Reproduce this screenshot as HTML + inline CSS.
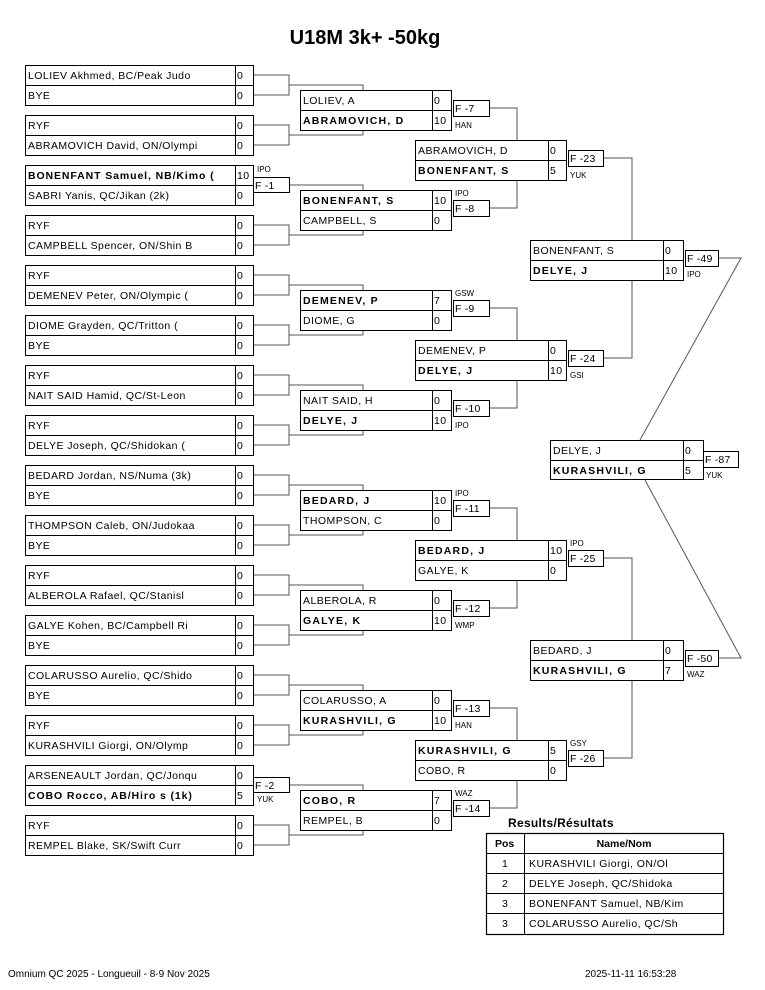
<!DOCTYPE html>
<html><head><meta charset="utf-8"><style>
html,body{margin:0;padding:0;background:#fff}
svg{display:block}
text{font-family:"Liberation Sans",Arial,sans-serif;font-size:10.5px;letter-spacing:.45px;fill:#000}
.b{font-weight:bold;letter-spacing:1.2px}
.s{font-size:8px;letter-spacing:0}
.f{font-size:10.5px;letter-spacing:.2px}
.t{font-size:20px;font-weight:bold;letter-spacing:0}
.h{font-size:12px;font-weight:bold;letter-spacing:.3px}
.ft{font-size:10px;letter-spacing:0}
rect{fill:none;stroke:#000;stroke-width:1}
.ln{fill:none;stroke:#555;stroke-width:1}
</style></head><body>
<svg width="765" height="990" viewBox="0 0 765 990" xmlns="http://www.w3.org/2000/svg">
<text x="365" y="44" text-anchor="middle" class="t">U18M 3k+ -50kg</text>

<!-- connectors -->
<path class="ln" d="M253 75H289V95H253M289 85H363V90
M253 125H289V145H253M289 135H363V130
M289 185H363V190
M253 225H289V245H253M289 235H363V230
M253 275H289V295H253M289 285H363V290
M253 325H289V345H253M289 335H363V330
M253 375H289V395H253M289 385H363V390
M253 425H289V445H253M289 435H363V430
M253 475H289V495H253M289 485H363V490
M253 525H289V545H253M289 535H363V530
M253 575H289V595H253M289 585H363V590
M253 625H289V645H253M289 635H363V630
M253 675H289V695H253M289 685H363V690
M253 725H289V745H253M289 735H363V730
M289 785H363V790
M253 825H289V845H253M289 835H363V830
M489 108H517V140M489 208H517V180M489 308H517V340M489 408H517V380
M489 508H517V540M489 608H517V580M489 708H517V740M489 808H517V780
M603 158H632V240M603 358H632V280M603 558H632V640M603 758H632V680
M718 258H741L640 440M718 658H741L645 480"/>

<!-- Round 1 boxes -->
<g>
<rect x="25.5" y="65.5" width="228" height="40"/><path class="ln" style="stroke:#000" d="M25 85.5H253M235.5 65V105"/>
<rect x="25.5" y="115.5" width="228" height="40"/><path class="ln" style="stroke:#000" d="M25 135.5H253M235.5 115V155"/>
<rect x="25.5" y="165.5" width="228" height="40"/><path class="ln" style="stroke:#000" d="M25 185.5H253M235.5 165V205"/>
<rect x="25.5" y="215.5" width="228" height="40"/><path class="ln" style="stroke:#000" d="M25 235.5H253M235.5 215V255"/>
<rect x="25.5" y="265.5" width="228" height="40"/><path class="ln" style="stroke:#000" d="M25 285.5H253M235.5 265V305"/>
<rect x="25.5" y="315.5" width="228" height="40"/><path class="ln" style="stroke:#000" d="M25 335.5H253M235.5 315V355"/>
<rect x="25.5" y="365.5" width="228" height="40"/><path class="ln" style="stroke:#000" d="M25 385.5H253M235.5 365V405"/>
<rect x="25.5" y="415.5" width="228" height="40"/><path class="ln" style="stroke:#000" d="M25 435.5H253M235.5 415V455"/>
<rect x="25.5" y="465.5" width="228" height="40"/><path class="ln" style="stroke:#000" d="M25 485.5H253M235.5 465V505"/>
<rect x="25.5" y="515.5" width="228" height="40"/><path class="ln" style="stroke:#000" d="M25 535.5H253M235.5 515V555"/>
<rect x="25.5" y="565.5" width="228" height="40"/><path class="ln" style="stroke:#000" d="M25 585.5H253M235.5 565V605"/>
<rect x="25.5" y="615.5" width="228" height="40"/><path class="ln" style="stroke:#000" d="M25 635.5H253M235.5 615V655"/>
<rect x="25.5" y="665.5" width="228" height="40"/><path class="ln" style="stroke:#000" d="M25 685.5H253M235.5 665V705"/>
<rect x="25.5" y="715.5" width="228" height="40"/><path class="ln" style="stroke:#000" d="M25 735.5H253M235.5 715V755"/>
<rect x="25.5" y="765.5" width="228" height="40"/><path class="ln" style="stroke:#000" d="M25 785.5H253M235.5 765V805"/>
<rect x="25.5" y="815.5" width="228" height="40"/><path class="ln" style="stroke:#000" d="M25 835.5H253M235.5 815V855"/>
</g>
<g>
<text x="28" y="79">LOLIEV Akhmed, BC/Peak Judo</text><text x="237" y="79">0</text>
<text x="28" y="99">BYE</text><text x="237" y="99">0</text>
<text x="28" y="129">RYF</text><text x="237" y="129">0</text>
<text x="28" y="149">ABRAMOVICH David, ON/Olympi</text><text x="237" y="149">0</text>
<text x="28" y="179" class="b" style="letter-spacing:.9px">BONENFANT Samuel, NB/Kimo (</text><text x="237" y="179">10</text>
<text x="28" y="199">SABRI Yanis, QC/Jikan (2k)</text><text x="237" y="199">0</text>
<text x="28" y="229">RYF</text><text x="237" y="229">0</text>
<text x="28" y="249">CAMPBELL Spencer, ON/Shin B</text><text x="237" y="249">0</text>
<text x="28" y="279">RYF</text><text x="237" y="279">0</text>
<text x="28" y="299">DEMENEV Peter, ON/Olympic (</text><text x="237" y="299">0</text>
<text x="28" y="329">DIOME Grayden, QC/Tritton (</text><text x="237" y="329">0</text>
<text x="28" y="349">BYE</text><text x="237" y="349">0</text>
<text x="28" y="379">RYF</text><text x="237" y="379">0</text>
<text x="28" y="399">NAIT SAID Hamid, QC/St-Leon</text><text x="237" y="399">0</text>
<text x="28" y="429">RYF</text><text x="237" y="429">0</text>
<text x="28" y="449">DELYE Joseph, QC/Shidokan (</text><text x="237" y="449">0</text>
<text x="28" y="479">BEDARD Jordan, NS/Numa (3k)</text><text x="237" y="479">0</text>
<text x="28" y="499">BYE</text><text x="237" y="499">0</text>
<text x="28" y="529">THOMPSON Caleb, ON/Judokaa</text><text x="237" y="529">0</text>
<text x="28" y="549">BYE</text><text x="237" y="549">0</text>
<text x="28" y="579">RYF</text><text x="237" y="579">0</text>
<text x="28" y="599">ALBEROLA Rafael, QC/Stanisl</text><text x="237" y="599">0</text>
<text x="28" y="629">GALYE Kohen, BC/Campbell Ri</text><text x="237" y="629">0</text>
<text x="28" y="649">BYE</text><text x="237" y="649">0</text>
<text x="28" y="679">COLARUSSO Aurelio, QC/Shido</text><text x="237" y="679">0</text>
<text x="28" y="699">BYE</text><text x="237" y="699">0</text>
<text x="28" y="729">RYF</text><text x="237" y="729">0</text>
<text x="28" y="749">KURASHVILI Giorgi, ON/Olymp</text><text x="237" y="749">0</text>
<text x="28" y="779">ARSENEAULT Jordan, QC/Jonqu</text><text x="237" y="779">0</text>
<text x="28" y="799" class="b" style="letter-spacing:.9px">COBO Rocco, AB/Hiro s (1k)</text><text x="237" y="799">5</text>
<text x="28" y="829">RYF</text><text x="237" y="829">0</text>
<text x="28" y="849">REMPEL Blake, SK/Swift Curr</text><text x="237" y="849">0</text>
</g>
<!-- R1 fights -->
<rect x="253.5" y="177.5" width="36" height="15"/><text x="255" y="189" class="f">F -1</text><text x="257" y="172" class="s">IPO</text>
<rect x="253.5" y="777.5" width="36" height="15"/><text x="255" y="789" class="f">F -2</text><text x="257" y="802" class="s">YUK</text>

<!-- Round 2 -->
<g>
<rect x="300.5" y="90.5" width="151" height="40"/><path class="ln" style="stroke:#000" d="M300 110.5H451M432.5 90V130"/>
<rect x="300.5" y="190.5" width="151" height="40"/><path class="ln" style="stroke:#000" d="M300 210.5H451M432.5 190V230"/>
<rect x="300.5" y="290.5" width="151" height="40"/><path class="ln" style="stroke:#000" d="M300 310.5H451M432.5 290V330"/>
<rect x="300.5" y="390.5" width="151" height="40"/><path class="ln" style="stroke:#000" d="M300 410.5H451M432.5 390V430"/>
<rect x="300.5" y="490.5" width="151" height="40"/><path class="ln" style="stroke:#000" d="M300 510.5H451M432.5 490V530"/>
<rect x="300.5" y="590.5" width="151" height="40"/><path class="ln" style="stroke:#000" d="M300 610.5H451M432.5 590V630"/>
<rect x="300.5" y="690.5" width="151" height="40"/><path class="ln" style="stroke:#000" d="M300 710.5H451M432.5 690V730"/>
<rect x="300.5" y="790.5" width="151" height="40"/><path class="ln" style="stroke:#000" d="M300 810.5H451M432.5 790V830"/>
<text x="303" y="104">LOLIEV, A</text><text x="434" y="104">0</text>
<text x="303" y="124" class="b">ABRAMOVICH, D</text><text x="434" y="124">10</text>
<text x="303" y="204" class="b">BONENFANT, S</text><text x="434" y="204">10</text>
<text x="303" y="224">CAMPBELL, S</text><text x="434" y="224">0</text>
<text x="303" y="304" class="b">DEMENEV, P</text><text x="434" y="304">7</text>
<text x="303" y="324">DIOME, G</text><text x="434" y="324">0</text>
<text x="303" y="404">NAIT SAID, H</text><text x="434" y="404">0</text>
<text x="303" y="424" class="b">DELYE, J</text><text x="434" y="424">10</text>
<text x="303" y="504" class="b">BEDARD, J</text><text x="434" y="504">10</text>
<text x="303" y="524">THOMPSON, C</text><text x="434" y="524">0</text>
<text x="303" y="604">ALBEROLA, R</text><text x="434" y="604">0</text>
<text x="303" y="624" class="b">GALYE, K</text><text x="434" y="624">10</text>
<text x="303" y="704">COLARUSSO, A</text><text x="434" y="704">0</text>
<text x="303" y="724" class="b">KURASHVILI, G</text><text x="434" y="724">10</text>
<text x="303" y="804" class="b">COBO, R</text><text x="434" y="804">7</text>
<text x="303" y="824">REMPEL, B</text><text x="434" y="824">0</text>
</g>
<g>
<rect x="453.5" y="100.5" width="36" height="16"/><text x="455" y="112" class="f">F -7</text><text x="455" y="128" class="s">HAN</text>
<rect x="453.5" y="200.5" width="36" height="16"/><text x="455" y="212" class="f">F -8</text><text x="455" y="196" class="s">IPO</text>
<rect x="453.5" y="300.5" width="36" height="16"/><text x="455" y="312" class="f">F -9</text><text x="455" y="296" class="s">GSW</text>
<rect x="453.5" y="400.5" width="36" height="16"/><text x="455" y="412" class="f">F -10</text><text x="455" y="428" class="s">IPO</text>
<rect x="453.5" y="500.5" width="36" height="16"/><text x="455" y="512" class="f">F -11</text><text x="455" y="496" class="s">IPO</text>
<rect x="453.5" y="600.5" width="36" height="16"/><text x="455" y="612" class="f">F -12</text><text x="455" y="628" class="s">WMP</text>
<rect x="453.5" y="700.5" width="36" height="16"/><text x="455" y="712" class="f">F -13</text><text x="455" y="728" class="s">HAN</text>
<rect x="453.5" y="800.5" width="36" height="16"/><text x="455" y="812" class="f">F -14</text><text x="455" y="796" class="s">WAZ</text>
</g>

<!-- Round 3 -->
<g>
<rect x="415.5" y="140.5" width="151" height="40"/><path class="ln" style="stroke:#000" d="M415 160.5H566M548.5 140V180"/>
<rect x="415.5" y="340.5" width="151" height="40"/><path class="ln" style="stroke:#000" d="M415 360.5H566M548.5 340V380"/>
<rect x="415.5" y="540.5" width="151" height="40"/><path class="ln" style="stroke:#000" d="M415 560.5H566M548.5 540V580"/>
<rect x="415.5" y="740.5" width="151" height="40"/><path class="ln" style="stroke:#000" d="M415 760.5H566M548.5 740V780"/>
<text x="418" y="154">ABRAMOVICH, D</text><text x="550" y="154">0</text>
<text x="418" y="174" class="b">BONENFANT, S</text><text x="550" y="174">5</text>
<text x="418" y="354">DEMENEV, P</text><text x="550" y="354">0</text>
<text x="418" y="374" class="b">DELYE, J</text><text x="550" y="374">10</text>
<text x="418" y="554" class="b">BEDARD, J</text><text x="550" y="554">10</text>
<text x="418" y="574">GALYE, K</text><text x="550" y="574">0</text>
<text x="418" y="754" class="b">KURASHVILI, G</text><text x="550" y="754">5</text>
<text x="418" y="774">COBO, R</text><text x="550" y="774">0</text>
<rect x="568.5" y="150.5" width="35" height="16"/><text x="570" y="162" class="f">F -23</text><text x="570" y="178" class="s">YUK</text>
<rect x="568.5" y="350.5" width="35" height="16"/><text x="570" y="362" class="f">F -24</text><text x="570" y="378" class="s">GSI</text>
<rect x="568.5" y="550.5" width="35" height="16"/><text x="570" y="562" class="f">F -25</text><text x="570" y="546" class="s">IPO</text>
<rect x="568.5" y="750.5" width="35" height="16"/><text x="570" y="762" class="f">F -26</text><text x="570" y="746" class="s">GSY</text>
</g>

<!-- Round 4 -->
<g>
<rect x="530.5" y="240.5" width="153" height="40"/><path class="ln" style="stroke:#000" d="M530 260.5H683M663.5 240V280"/>
<rect x="530.5" y="640.5" width="153" height="40"/><path class="ln" style="stroke:#000" d="M530 660.5H683M663.5 640V680"/>
<text x="533" y="254">BONENFANT, S</text><text x="665" y="254">0</text>
<text x="533" y="274" class="b">DELYE, J</text><text x="665" y="274">10</text>
<text x="533" y="654">BEDARD, J</text><text x="665" y="654">0</text>
<text x="533" y="674" class="b">KURASHVILI, G</text><text x="665" y="674">7</text>
<rect x="685.5" y="250.5" width="33" height="16"/><text x="687" y="262" class="f">F -49</text><text x="687" y="277" class="s">IPO</text>
<rect x="685.5" y="650.5" width="33" height="16"/><text x="687" y="662" class="f">F -50</text><text x="687" y="677" class="s">WAZ</text>
</g>

<!-- Final -->
<rect x="550.5" y="440.5" width="153" height="39"/><path class="ln" style="stroke:#000" d="M550 460.5H703M683.5 440V480"/>
<text x="553" y="454">DELYE, J</text><text x="685" y="454">0</text>
<text x="553" y="474" class="b">KURASHVILI, G</text><text x="685" y="474">5</text>
<rect x="703.5" y="451.5" width="35" height="16"/><text x="705" y="463" class="f">F -87</text><text x="706" y="478" class="s">YUK</text>

<!-- Results -->
<text x="508" y="827" class="h">Results/Résultats</text>
<rect x="486.5" y="833.5" width="237" height="101" style="stroke-width:1.2"/>
<path class="ln" style="stroke:#000" d="M486 853.5H723M486 873.5H723M486 893.5H723M486 913.5H723M524.5 833V934"/>
<text x="495" y="847" style="font-weight:bold;letter-spacing:0">Pos</text>
<text x="624" y="847" text-anchor="middle" style="font-weight:bold;letter-spacing:0">Name/Nom</text>
<text x="502" y="867">1</text><text x="529" y="867">KURASHVILI Giorgi, ON/Ol</text>
<text x="502" y="887">2</text><text x="529" y="887">DELYE Joseph, QC/Shidoka</text>
<text x="502" y="907">3</text><text x="529" y="907">BONENFANT Samuel, NB/Kim</text>
<text x="502" y="927">3</text><text x="529" y="927">COLARUSSO Aurelio, QC/Sh</text>

<text x="8" y="977" class="ft">Omnium QC 2025 - Longueuil - 8-9 Nov 2025</text>
<text x="585" y="977" class="ft">2025-11-11 16:53:28</text>
</svg>
</body></html>
